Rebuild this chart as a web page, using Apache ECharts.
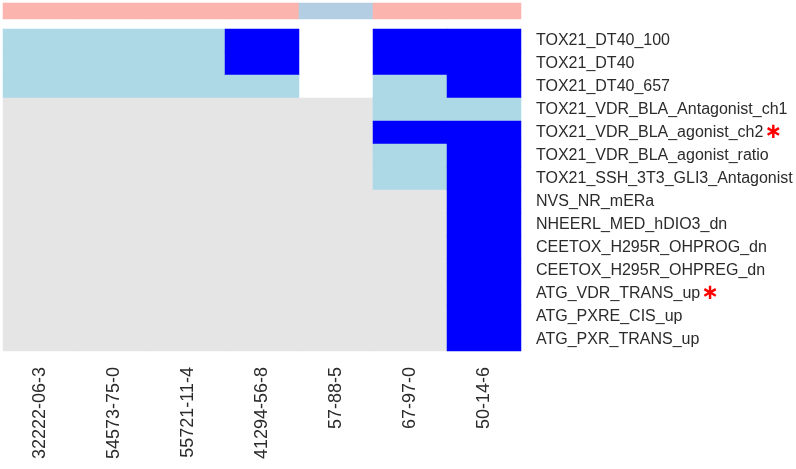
<!DOCTYPE html>
<html><head><meta charset="utf-8">
<script src="https://cdn.jsdelivr.net/npm/echarts@6/dist/echarts.min.js"></script>
<style>html,body{margin:0;padding:0;background:#fff}#c{width:796px;height:469px}</style>
</head><body><div id="c"></div>
<script>
// compounds (columns)
var compounds = ['32222-06-3','54573-75-0','55721-11-4','41294-56-8','57-88-5','67-97-0','50-14-6'];
// assays (rows, top to bottom)
var assays = ['TOX21_DT40_100','TOX21_DT40','TOX21_DT40_657','TOX21_VDR_BLA_Antagonist_ch1','TOX21_VDR_BLA_agonist_ch2','TOX21_VDR_BLA_agonist_ratio','TOX21_SSH_3T3_GLI3_Antagonist','NVS_NR_mERa','NHEERL_MED_hDIO3_dn','CEETOX_H295R_OHPROG_dn','CEETOX_H295R_OHPREG_dn','ATG_VDR_TRANS_up','ATG_PXRE_CIS_up','ATG_PXR_TRANS_up'];
// flagged assays (red asterisk)
var flagged = ['TOX21_VDR_BLA_agonist_ch2','ATG_VDR_TRANS_up'];
// cell states per compound: 0 = inactive (grey), 1 = light blue, 2 = blue, null = not tested
var c32222_06_3 = [1,1,1,0,0,0,0,0,0,0,0,0,0,0];
var c54573_75_0 = [1,1,1,0,0,0,0,0,0,0,0,0,0,0];
var c55721_11_4 = [1,1,1,0,0,0,0,0,0,0,0,0,0,0];
var c41294_56_8 = [2,2,1,0,0,0,0,0,0,0,0,0,0,0];
var c57_88_5    = [null,null,null,0,0,0,0,0,0,0,0,0,0,0];
var c67_97_0    = [2,2,1,1,2,1,1,0,0,0,0,0,0,0];
var c50_14_6    = [2,2,2,1,2,2,2,2,2,2,2,2,2,2];
var columns = [c32222_06_3,c54573_75_0,c55721_11_4,c41294_56_8,c57_88_5,c67_97_0,c50_14_6];
// column annotation group: 0 = pink group, 1 = blue group
var groups = [0,0,0,0,1,0,0];

var cells = [];
columns.forEach(function(col, ci){
  col.forEach(function(v, ri){ cells.push([ci, ri, v === null ? '-' : v]); });
});
var annot = groups.map(function(g, ci){ return [ci, 0, g]; });

var font = 'Liberation Sans';
var hidden = {show:false};
var chart = echarts.init(document.getElementById('c'), null, {renderer:'canvas'});
chart.setOption({
  backgroundColor:'#ffffff',
  animation:false,
  grid:[
    {left:3, width:518, top:29, height:322},
    {left:3, width:518, top:3, height:16}
  ],
  xAxis:[
    {type:'category', data:compounds, gridIndex:0, position:'bottom',
     axisLine:hidden, axisTick:hidden, splitLine:hidden,
     axisLabel:{rotate:90, margin:16, fontSize:18, fontFamily:font, color:'#2b2b2b', padding:[0,0,12,0]}},
    {type:'category', data:compounds, gridIndex:1, show:false}
  ],
  yAxis:[
    {type:'category', data:assays, gridIndex:0, inverse:true, position:'right',
     axisLine:hidden, axisTick:hidden, splitLine:hidden,
     axisLabel:{margin:15, fontSize:16, fontFamily:font, color:'#2b2b2b',
       formatter:function(v){ return flagged.indexOf(v) >= 0 ? '{a|'+v+'}{s|\u2217}' : '{a|'+v+'}'; },
       rich:{a:{fontSize:16, fontFamily:font, color:'#2b2b2b'},
             s:{fontSize:21, fontFamily:'DejaVu Sans', fontWeight:'bold', color:'#ff0000', padding:[0,0,0,1]}}}},
    {type:'category', data:['group'], gridIndex:1, show:false}
  ],
  visualMap:[
    {type:'piecewise', show:false, seriesIndex:0, dimension:2,
     pieces:[{value:0,color:'#e5e5e5'},{value:1,color:'#add8e6'},{value:2,color:'#0000ff'}]},
    {type:'piecewise', show:false, seriesIndex:1, dimension:2,
     pieces:[{value:0,color:'#fbb4ae'},{value:1,color:'#b3cde3'}]}
  ],
  series:[
    {type:'heatmap', xAxisIndex:0, yAxisIndex:0, data:cells, itemStyle:{borderWidth:0}, emphasis:{disabled:true}},
    {type:'heatmap', xAxisIndex:1, yAxisIndex:1, data:annot, itemStyle:{borderWidth:0}, emphasis:{disabled:true}}
  ]
});
</script></body></html>
